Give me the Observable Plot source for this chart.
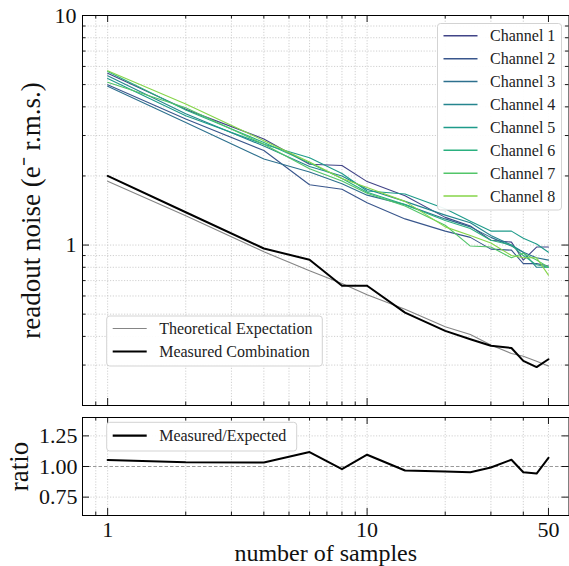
<!DOCTYPE html>
<html><head><meta charset="utf-8">
<script src="https://cdn.jsdelivr.net/npm/d3@7"></script>
<script src="https://cdn.jsdelivr.net/npm/@observablehq/plot@0.6"></script>
<style>
body{margin:0;background:#fff;}
#wrap{position:relative;width:569px;height:566px;font-family:"Liberation Serif",serif;}
#wrap svg{position:absolute;left:0;font-family:"Liberation Serif",serif !important;}
#wrap svg text{font-family:"Liberation Serif",serif !important;}
</style></head><body><div id="wrap"></div>
<script>
// ---- data ----
const samples = [1, 2, 4, 6, 8, 10, 14, 20, 25, 30, 36, 40, 45, 50];
const channelNames = ["Channel 1","Channel 2","Channel 3","Channel 4","Channel 5","Channel 6","Channel 7","Channel 8"];
const channelColors = ["#414487","#39568c","#2d708e","#25858e","#1e9b8a","#2ab07f","#52c569","#86d549"];
const ch1 = [5.60, 3.90, 2.90, 2.25, 2.22, 1.89, 1.64, 1.32, 1.21, 1.05, 1.03, 0.86, 0.98, 0.98];
const ch2 = [4.99, 3.54, 2.58, 1.83, 1.75, 1.53, 1.30, 1.15, 1.08, 0.96, 0.95, 0.83, 0.83, 0.81];
const ch3 = [4.92, 3.42, 2.37, 2.08, 1.85, 1.65, 1.50, 1.30, 1.20, 1.08, 0.99, 0.93, 0.88, 0.86];
const ch4 = [5.46, 3.73, 2.70, 2.20, 2.00, 1.75, 1.55, 1.35, 1.25, 1.10, 1.00, 0.93, 0.80, 0.80];
const ch5 = [5.31, 3.66, 2.75, 2.40, 2.05, 1.72, 1.67, 1.44, 1.27, 1.15, 1.15, 1.07, 1.01, 0.93];
const ch6 = [5.70, 3.88, 2.80, 2.28, 1.95, 1.70, 1.50, 1.28, 1.18, 1.05, 1.00, 0.90, 0.82, 0.80];
const ch7 = [5.12, 3.96, 2.75, 2.15, 1.90, 1.68, 1.48, 1.22, 0.99, 0.98, 0.88, 0.92, 0.86, 0.80];
const ch8 = [5.75, 4.12, 2.85, 2.30, 1.95, 1.78, 1.55, 1.20, 1.10, 1.02, 0.90, 0.88, 0.88, 0.74];
const theoretical = [1.898, 1.343, 0.935, 0.772, 0.680, 0.607, 0.525, 0.441, 0.408, 0.367, 0.337, 0.328, 0.312, 0.297];
const measured    = [2.00, 1.39, 0.966, 0.863, 0.665, 0.665, 0.508, 0.423, 0.389, 0.364, 0.356, 0.313, 0.294, 0.318];
const ratio       = [1.054, 1.035, 1.033, 1.118, 0.978, 1.096, 0.967, 0.959, 0.953, 0.992, 1.055, 0.953, 0.942, 1.071];
const xMajor = [1, 10, 50];
const xMinor = [0.9, 2, 3, 4, 5, 6, 7, 8, 9, 20, 30, 40];
const yMajorTop = [1, 10];
const yMinorTop = [0.2, 0.3, 0.4, 0.5, 0.6, 0.7, 0.8, 0.9, 2, 3, 4, 5, 6, 7, 8, 9];
const yMajorRatio = [0.75, 1.00, 1.25];
const legendTop = ["Theoretical Expectation", "Measured Combination"];
const legendRatio = ["Measured/Expected"];
const yLabelTop = "readout noise (e\u207B r.m.s.)";
const yLabelRatio = "ratio";
const xLabel = "number of samples";

// ---- tables ----
const channels = [ch1, ch2, ch3, ch4, ch5, ch6, ch7, ch8];
const channelRows = channels.flatMap((vals, c) => vals.map((v, i) => ({n: samples[i], v, ch: channelNames[c]})));
const theoRows = samples.map((n, i) => ({n, v: theoretical[i]}));
const measRows = samples.map((n, i) => ({n, v: measured[i]}));
const ratioRows = samples.map((n, i) => ({n, v: ratio[i]}));

const W = 569, ML = 82, MR = 0.5;
const FW = W - ML - MR;
const font = '"Liberation Serif", serif';
const gridStyle = {stroke: "#c4c4c4", strokeWidth: 0.8, strokeDasharray: "1.2,1.6"};
const tk = {stroke: "black", strokeWidth: 0.9};

function frameTicks(xMaj, xMin, yMaj, yMin, fh) {
  const L = 7, l = 3.5;
  return [
    Plot.tickX(xMaj, {x: d => d, insetTop: fh - L, ...tk}),
    Plot.tickX(xMaj, {x: d => d, insetBottom: fh - L, ...tk}),
    Plot.tickX(xMin, {x: d => d, insetTop: fh - l, ...tk}),
    Plot.tickX(xMin, {x: d => d, insetBottom: fh - l, ...tk}),
    Plot.tickY(yMaj, {y: d => d, insetRight: FW - L, ...tk}),
    Plot.tickY(yMaj, {y: d => d, insetLeft: FW - L, ...tk}),
    Plot.tickY(yMin, {y: d => d, insetRight: FW - l, ...tk}),
    Plot.tickY(yMin, {y: d => d, insetLeft: FW - l, ...tk})
  ];
}

// ---- top panel ----
const topH = 410, topMT = 15, topMB = 5;
const topPlot = Plot.plot({
  width: W, height: topH,
  marginLeft: ML, marginRight: MR, marginTop: topMT, marginBottom: topMB,
  style: {fontFamily: font, background: "transparent", overflow: "visible", color: "#111"},
  x: {type: "log", domain: [0.8, 60], axis: null},
  y: {type: "log", domain: [0.2, 10], axis: null},
  color: {domain: channelNames, range: channelColors},
  marks: [
    Plot.ruleX([...xMajor, ...xMinor], {x: d => d, ...gridStyle}),
    Plot.ruleY([...yMajorTop, ...yMinorTop], {y: d => d, ...gridStyle}),
    Plot.line(channelRows, {x: "n", y: "v", z: "ch", stroke: "ch", strokeWidth: 1.1}),
    Plot.line(theoRows, {x: "n", y: "v", stroke: "#858585", strokeWidth: 1.1}),
    Plot.line(measRows, {x: "n", y: "v", stroke: "black", strokeWidth: 2}),
    ...frameTicks(xMajor, xMinor, yMajorTop, yMinorTop, topH - topMT - topMB),
    Plot.frame({stroke: "black", strokeWidth: 1}),
    Plot.text(yMajorTop, {y: d => d, text: d => String(d), frameAnchor: "left", textAnchor: "end", dx: -6, fontSize: 22, fill: "#111"}),
    Plot.text([yLabelTop], {text: d => d, frameAnchor: "left", dx: -51, rotate: -90, textAnchor: "middle", lineAnchor: "middle", fontSize: 27, fill: "#111"})
  ]
});
topPlot.style.top = "0px";

// ---- ratio panel ----
const botTop = 410, botH = 156, botMT = 7, botMB = 51;
const botPlot = Plot.plot({
  width: W, height: botH,
  marginLeft: ML, marginRight: MR, marginTop: botMT, marginBottom: botMB,
  style: {fontFamily: font, background: "transparent", overflow: "visible", color: "#111"},
  x: {type: "log", domain: [0.8, 60], axis: null},
  y: {domain: [0.6, 1.4], axis: null},
  marks: [
    Plot.ruleX([...xMajor, ...xMinor], {x: d => d, ...gridStyle}),
    Plot.ruleY([0.75, 1.25], {y: d => d, ...gridStyle}),
    Plot.ruleY([1], {y: d => d, stroke: "#808080", strokeWidth: 0.8, strokeDasharray: "3.5,2"}),
    Plot.line(ratioRows, {x: "n", y: "v", stroke: "black", strokeWidth: 2}),
    ...frameTicks(xMajor, xMinor, yMajorRatio, [], botH - botMT - botMB),
    Plot.frame({stroke: "black", strokeWidth: 1}),
    Plot.text(yMajorRatio, {y: d => d, text: d => d.toFixed(2), frameAnchor: "left", textAnchor: "end", dx: -5, fontSize: 22, fill: "#111"}),
    Plot.text(xMajor, {x: d => d, text: d => String(d), frameAnchor: "bottom", lineAnchor: "top", dy: 6, fontSize: 22, fill: "#111"}),
    Plot.text([xLabel], {text: d => d, frameAnchor: "bottom", lineAnchor: "middle", dy: 38, fontSize: 24, fill: "#111"}),
    Plot.text([yLabelRatio], {text: d => d, frameAnchor: "left", dx: -63, rotate: -90, textAnchor: "middle", lineAnchor: "middle", fontSize: 27, fill: "#111"})
  ]
});
botPlot.style.top = botTop + "px";

const wrap = document.getElementById("wrap");
wrap.appendChild(topPlot);
wrap.appendChild(botPlot);

// ---- legends (overlay) ----
const ov = d3.create("svg").attr("width", W).attr("height", 566).style("top", "0px")
  .attr("font-family", font).style("pointer-events", "none");
function legend(x, y, w, h, items, rowY0, rowStep) {
  const g = ov.append("g");
  g.append("rect").attr("x", x).attr("y", y).attr("width", w).attr("height", h).attr("rx", 3)
    .attr("fill", "rgba(255,255,255,0.92)").attr("stroke", "#d3d3d3").attr("stroke-width", 1);
  items.forEach((it, i) => {
    const cy = rowY0 + i * rowStep;
    g.append("line").attr("x1", x + 6).attr("x2", x + 40).attr("y1", cy).attr("y2", cy)
      .attr("stroke", it.color).attr("stroke-width", it.width);
    g.append("text").attr("x", x + 52.5).attr("y", cy).attr("dy", "0.34em")
      .attr("font-size", 16).attr("fill", "#222").text(it.label);
  });
}
legend(437.5, 23.5, 124, 186.5, channelNames.map((c, i) => ({label: c, color: channelColors[i], width: 1.5})), 35.8, 22.9);
legend(106.7, 316, 215.6, 50, [{label: legendTop[0], color: "#858585", width: 1.2}, {label: legendTop[1], color: "black", width: 2.2}], 328.5, 23);
legend(106.7, 422.3, 190, 28.7, [{label: legendRatio[0], color: "black", width: 2.2}], 435.7, 23);
wrap.appendChild(ov.node());
</script></body></html>
